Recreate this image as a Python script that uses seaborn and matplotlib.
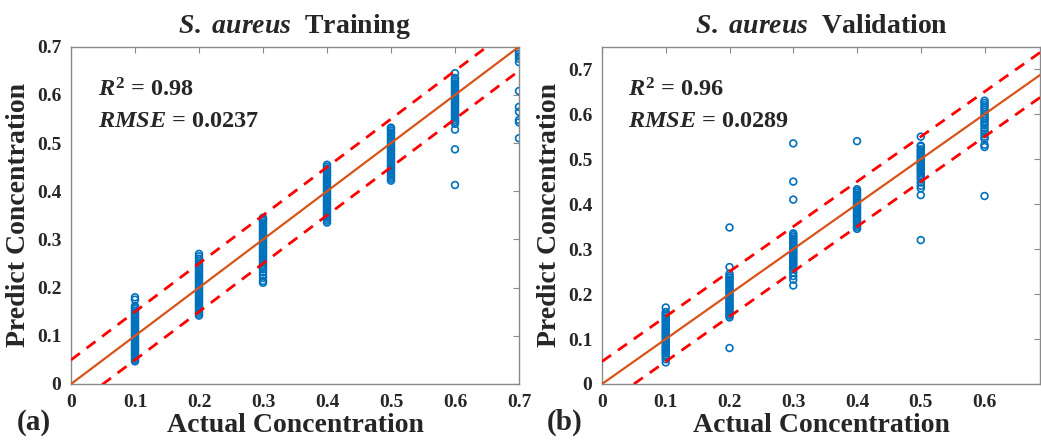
import numpy as np
import pandas as pd
import matplotlib
matplotlib.use("Agg")
import matplotlib.pyplot as plt
import seaborn as sns

# ---------------- data ----------------
# Training set: predicted values for each actual concentration
train_01 = [0.047, 0.050, 0.053, 0.057, 0.060, 0.064, 0.068, 0.071, 0.075, 0.079, 0.082, 0.086,
            0.090, 0.093, 0.097, 0.101, 0.104, 0.108, 0.112, 0.115, 0.119, 0.123, 0.126, 0.130,
            0.134, 0.137, 0.141, 0.145, 0.148, 0.152, 0.156, 0.159, 0.162, 0.175, 0.180]
train_02 = [0.142, 0.146, 0.150, 0.154, 0.158, 0.162, 0.166, 0.170, 0.174, 0.178, 0.182, 0.186,
            0.190, 0.194, 0.198, 0.202, 0.206, 0.210, 0.214, 0.218, 0.222, 0.226, 0.230, 0.234,
            0.238, 0.242, 0.246, 0.250, 0.255, 0.260, 0.265, 0.270]
train_03 = [0.210, 0.214, 0.220, 0.226, 0.232, 0.238, 0.243, 0.247, 0.251, 0.255, 0.259, 0.263,
            0.267, 0.271, 0.275, 0.279, 0.283, 0.287, 0.291, 0.295, 0.299, 0.303, 0.307, 0.311,
            0.315, 0.319, 0.323, 0.327, 0.331, 0.335, 0.339, 0.342, 0.345]
train_04 = [0.335, 0.339, 0.343, 0.347, 0.351, 0.355, 0.359, 0.363, 0.367, 0.371, 0.375, 0.379,
            0.383, 0.387, 0.391, 0.395, 0.399, 0.403, 0.407, 0.411, 0.415, 0.419, 0.423, 0.427,
            0.431, 0.435, 0.439, 0.443, 0.447, 0.451, 0.455]
train_05 = [0.422, 0.426, 0.430, 0.434, 0.438, 0.442, 0.446, 0.450, 0.454, 0.458, 0.462, 0.466,
            0.470, 0.474, 0.478, 0.482, 0.486, 0.490, 0.494, 0.498, 0.502, 0.506, 0.510, 0.514,
            0.518, 0.522, 0.526, 0.530, 0.532]
train_06 = [0.413, 0.487, 0.528, 0.540, 0.544, 0.548, 0.552, 0.556, 0.560, 0.564, 0.568, 0.572,
            0.576, 0.580, 0.584, 0.588, 0.592, 0.596, 0.600, 0.604, 0.608, 0.612, 0.616, 0.620,
            0.624, 0.628, 0.632, 0.635, 0.645]
train_07 = [0.510, 0.543, 0.548, 0.565, 0.575, 0.608, 0.668, 0.675, 0.680, 0.685, 0.690]

# Validation set
val_01 = [0.048, 0.055, 0.060, 0.064, 0.068, 0.072, 0.076, 0.080, 0.084, 0.088, 0.092, 0.096,
          0.100, 0.104, 0.108, 0.112, 0.116, 0.120, 0.124, 0.128, 0.132, 0.136, 0.140, 0.144,
          0.148, 0.152, 0.156, 0.160, 0.170]
val_02 = [0.080, 0.148, 0.152, 0.156, 0.160, 0.164, 0.168, 0.172, 0.176, 0.180, 0.184, 0.188,
          0.192, 0.196, 0.200, 0.204, 0.208, 0.212, 0.216, 0.220, 0.224, 0.228, 0.232, 0.236,
          0.240, 0.245, 0.260, 0.348]
val_03 = [0.219, 0.232, 0.240, 0.248, 0.255, 0.259, 0.263, 0.267, 0.271, 0.275, 0.279, 0.283,
          0.287, 0.291, 0.295, 0.299, 0.303, 0.307, 0.311, 0.315, 0.319, 0.323, 0.327, 0.331,
          0.335, 0.410, 0.450, 0.535]
val_04 = [0.345, 0.349, 0.353, 0.357, 0.361, 0.365, 0.369, 0.373, 0.377, 0.381, 0.385, 0.389,
          0.393, 0.397, 0.401, 0.405, 0.409, 0.413, 0.417, 0.421, 0.425, 0.429, 0.433, 0.540]
val_05 = [0.320, 0.420, 0.435, 0.441, 0.448, 0.455, 0.460, 0.465, 0.470, 0.474, 0.478, 0.482,
          0.486, 0.490, 0.494, 0.498, 0.502, 0.506, 0.510, 0.514, 0.518, 0.522, 0.528, 0.530, 0.550]
val_06 = [0.418, 0.527, 0.532, 0.545, 0.550, 0.556, 0.562, 0.568, 0.575, 0.580, 0.585, 0.590,
          0.595, 0.600, 0.605, 0.610, 0.615, 0.620, 0.625, 0.630]

train_groups = {0.1: train_01, 0.2: train_02, 0.3: train_03, 0.4: train_04,
                0.5: train_05, 0.6: train_06, 0.7: train_07}
val_groups = {0.1: val_01, 0.2: val_02, 0.3: val_03, 0.4: val_04,
              0.5: val_05, 0.6: val_06}

train_stats = ["0.98", "0.0237"]
val_stats = ["0.96", "0.0289"]
x_ticks_train = [0, 0.1, 0.2, 0.3, 0.4, 0.5, 0.6, 0.7]
y_ticks_train = [0, 0.1, 0.2, 0.3, 0.4, 0.5, 0.6, 0.7]
x_ticks_val = [0, 0.1, 0.2, 0.3, 0.4, 0.5, 0.6]
y_ticks_val = [0, 0.1, 0.2, 0.3, 0.4, 0.5, 0.6, 0.7]
tick_labels = {0: "0", 0.1: "0.1", 0.2: "0.2", 0.3: "0.3", 0.4: "0.4",
               0.5: "0.5", 0.6: "0.6", 0.7: "0.7"}
band = 0.05


def to_frame(groups):
    rows = []
    for k, vals in groups.items():
        for v in vals:
            rows.append((k, v))
    return pd.DataFrame(rows, columns=["Actual", "Predict"])


# ---------------- style ----------------
sns.set_theme(style="white")
plt.rcParams["font.family"] = ["Liberation Serif", "DejaVu Serif"]
plt.rcParams["font.weight"] = "bold"
plt.rcParams["mathtext.fontset"] = "custom"
plt.rcParams["mathtext.rm"] = "Liberation Serif:bold"
plt.rcParams["mathtext.bf"] = "Liberation Serif:bold"
plt.rcParams["mathtext.it"] = "Liberation Serif:bold:italic"

W, H = 1041, 443
fig = plt.figure(figsize=(W / 100, H / 100), dpi=100)
ax1 = fig.add_axes([71 / W, 1 - 384 / H, (519 - 71) / W, (384 - 46.7) / H])
ax2 = fig.add_axes([602 / W, 1 - 384 / H, (1040 - 602) / W, (384 - 46.7) / H])

marker_c = "#0072BD"
line_c = "#D95319"
spine_c = "#8a8a8a"


def draw(ax, groups, xmax, ymax, xt, yt, title, stats):
    df = to_frame(groups)
    sns.scatterplot(data=df, x="Actual", y="Predict", ax=ax, marker="o",
                    facecolors="none", edgecolor=marker_c, linewidth=1.2, s=24,
                    legend=False, zorder=3)
    xs = np.array([0.0, max(xmax, ymax) + 0.1])
    ax.plot(xs, xs, color=line_c, lw=1.6, zorder=4)
    ax.plot(xs, xs + band, color="#FF0000", lw=2.0, ls=(0, (4, 3)), zorder=4)
    ax.plot(xs, xs - band, color="#FF0000", lw=2.0, ls=(0, (4, 3)), zorder=4)
    ax.set_xlim(0, xmax)
    ax.set_ylim(0, ymax)
    ax.set_xticks(xt)
    ax.set_xticklabels([tick_labels[t] for t in xt])
    ax.set_yticks(yt)
    ax.set_yticklabels([tick_labels[t] for t in yt])
    ax.tick_params(axis="both", which="major", direction="in", length=4, width=0.8,
                   color=spine_c, labelsize=14, top=True, right=True, pad=7)
    for lab in ax.get_xticklabels() + ax.get_yticklabels():
        lab.set_fontweight("bold")
    for sp in ax.spines.values():
        sp.set_color(spine_c)
        sp.set_linewidth(1.0)
        sp.set_visible(True)
    ax.set_xlabel("Actual Concentration", fontsize=20, fontweight="bold", labelpad=2)
    ax.set_ylabel("Predict Concentration", fontsize=20, fontweight="bold", labelpad=4)
    ax.set_title(r"$S.\ aureus$  " + title, fontsize=20, fontweight="bold", pad=10)
    ax.text(0.06, 0.851, r"$R^{2}$ = " + stats[0], transform=ax.transAxes,
            fontsize=17.5, fontweight="bold", va="baseline", ha="left")
    ax.text(0.06, 0.762, r"$RMSE$ = " + stats[1], transform=ax.transAxes,
            fontsize=17.5, fontweight="bold", va="baseline", ha="left")


draw(ax1, train_groups, 0.7, 0.7, x_ticks_train, y_ticks_train, "Training", train_stats)
draw(ax2, val_groups, 0.687, 0.75, x_ticks_val, y_ticks_val, "Validation", val_stats)

fig.text(17 / W, 1 - 430 / H, "(a)", fontsize=21, fontweight="bold", ha="left", va="baseline")
fig.text(547 / W, 1 - 430 / H, "(b)", fontsize=21, fontweight="bold", ha="left", va="baseline")

fig.savefig("out.png", dpi=100)
